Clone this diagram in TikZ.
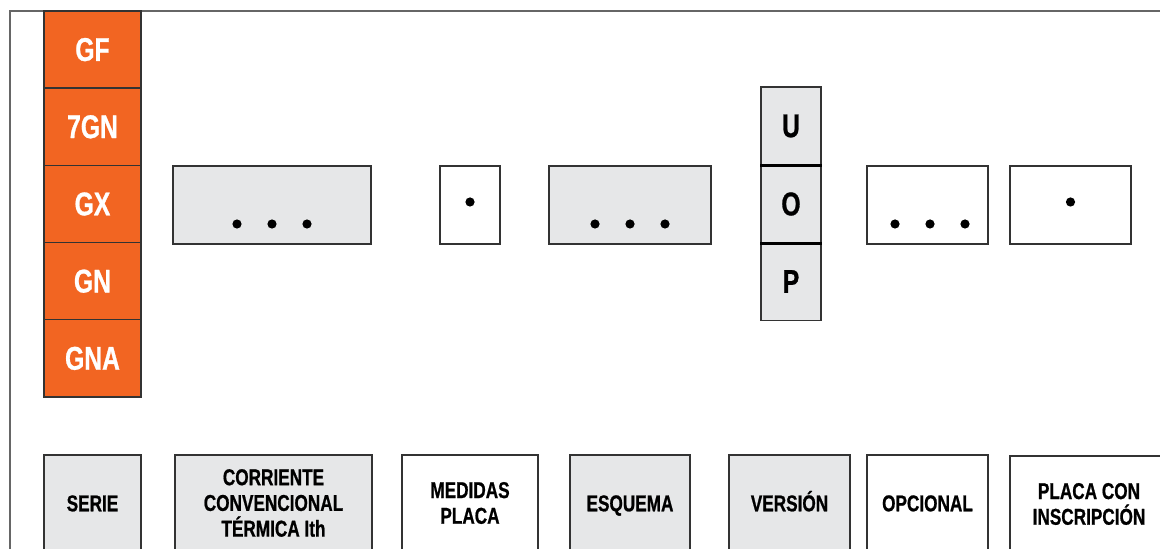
\documentclass[tikz,border=0pt]{standalone}
\usepackage{fontspec}
\newfontfamily\cond{Liberation Sans}[FakeStretch=0.75, BoldFeatures={FakeBold=0.8}]
\definecolor{orng}{HTML}{F26522}
\definecolor{lgray}{HTML}{E6E7E8}
\definecolor{edge}{HTML}{333333}
\definecolor{frame}{HTML}{666666}
\begin{document}
\begin{tikzpicture}[x=1bp,y=-1bp,
  cell/.style={draw=edge, line width=1.4bp, inner sep=0pt, minimum width=97bp, minimum height=77.2bp,
    fill=orng, text=white, font=\cond\bfseries\fontsize{33}{33}\selectfont},
  ucell/.style={draw=edge, line width=1.4bp, inner sep=0pt, minimum width=60bp, minimum height=77.7bp,
    fill=lgray, text=black, font=\cond\bfseries\fontsize{33}{33}\selectfont},
  gbox/.style={draw=edge, line width=1.4bp, inner sep=0pt, minimum height=78bp, fill=lgray},
  wbox/.style={draw=edge, line width=1.4bp, inner sep=0pt, minimum height=78bp, fill=white},
  lbl/.style={draw=edge, line width=1.4bp, inner sep=0pt, minimum height=96bp, align=center,
    font=\cond\bfseries\fontsize{23}{25.8}\selectfont},
  one/.style={lbl, text height=16.6bp, text depth=0bp},
  dot/.style={fill=black}
]
\useasboundingbox (0,0) rectangle (1160,549);
\clip (0,0) rectangle (1160,549);
\fill[white] (0,0) rectangle (1160,549);
% frame
\draw[frame, line width=1.5bp] (10,560) -- (10,11) -- (1170,11);
% orange column
\node[cell] (gf)  at (92.5,49.6)  {GF};
\node[cell] (g7)  at (92.5,126.8) {7GN};
\node[cell] (gx)  at (92.5,204.0) {GX};
\node[cell] (gn)  at (92.5,281.2) {GN};
\node[cell] (gna) at (92.5,358.4) {GNA};
% top boxes
\node[gbox, minimum width=198bp] (b1) at (272,205) {};
\node[wbox, minimum width=60bp]  (b2) at (470,205) {};
\node[gbox, minimum width=162bp] (b3) at (630,205) {};
\node[ucell] (u) at (791,126) {U};
\node[ucell] (o) at (791,204) {O};
\node[ucell] (p) at (791,281.5) {P};
\draw[black, line width=2.2bp] (u.south west) -- (u.south east);
\draw[black, line width=2.2bp] (o.south west) -- (o.south east);
\node[wbox, minimum width=121bp] (b5) at (927.5,205) {};
\node[wbox, minimum width=121bp] (b6) at (1070.5,205) {};
% dots
\foreach \b/\c in {b1/272,b3/630,b5/930}{
  \fill[dot] (\c-35,224) circle (4.6);
  \fill[dot] (\c,224) circle (4.6);
  \fill[dot] (\c+35,224) circle (4.6);
}
\fill[dot] (b2.center) ++(0,-3) circle (4.6);
\fill[dot] (b6.center) ++(0,-3) circle (4.6);
% bottom labels
\node[one, fill=lgray, minimum width=97bp]  (serie) at (92.5,503) {SERIE};
\node[lbl, fill=lgray, minimum width=197bp] (corr)  at (273.5,503) {CORRIENTE\\CONVENCIONAL\\TÉRMICA Ith};
\node[lbl, fill=white, minimum width=136bp] (med)   at (470,503) {MEDIDAS\\PLACA};
\node[one, fill=lgray, minimum width=120bp] (esq)   at (630,503) {ESQUEMA};
\node[one, fill=lgray, minimum width=121bp] (ver)   at (789.5,503) {VERSIÓN};
\node[one, fill=white, minimum width=121bp] (opc)   at (927.5,503) {OPCIONAL};
\node[lbl, fill=white, minimum width=158bp] (plc)   at (1089,504) {PLACA CON\\INSCRIPCIÓN};
\end{tikzpicture}
\end{document}
